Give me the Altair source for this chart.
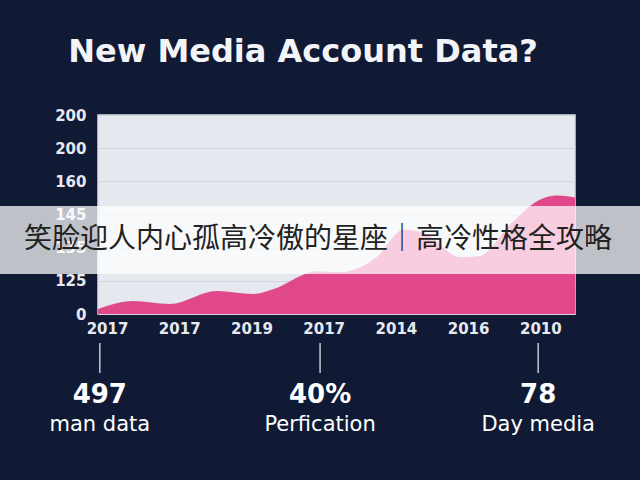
import json
import jinja2
import altair as alt
import pandas as pd

# ---- data ----
t_idx = [-0.125, 0.36, 0.87, 1.52, 2.02, 2.30, 2.91, 3.23, 3.73, 4.11, 4.40, 4.90, 5.15, 5.61, 6.00, 6.23, 6.48]
values = [0.15, 0.39, 0.30, 0.69, 0.60, 0.75, 1.29, 1.26, 1.71, 2.55, 2.43, 1.71, 1.74, 2.76, 3.45, 3.57, 3.51]

x_tick_labels = ["2017", "2017", "2019", "2017", "2014", "2016", "2010"]
y_tick_labels = ["0", "125", "135", "145", "160", "200", "200"]

stat_pos = [-0.1, 2.95, 5.97]
stat_numbers = ["497", "40%", "78"]
stat_labels = ["man data", "Perfication", "Day media"]

title_text = ["New Media Account Data?"]
banner_text = ["笑脸迎人内心孤高冷傲的星座｜高冷性格全攻略"]

BG = "#111a35"
PINK = "#e0488a"
LABEL = "#e6e9f0"

TEMPLATE = jinja2.Template("""<!DOCTYPE html>
<html>
<head>
<meta charset="utf-8">
<style>html,body{margin:0;padding:0;background:#111a35;overflow:hidden;} #{{ output_div }}{line-height:0;}</style>
<script type="text/javascript" src="{{ base_url }}/vega@{{ vega_version }}"></script>
<script type="text/javascript" src="{{ base_url }}/vega-lite@{{ vegalite_version }}"></script>
<script type="text/javascript" src="{{ base_url }}/vega-embed@{{ vegaembed_version }}"></script>
</head>
<body>
<div id="{{ output_div }}"></div>
<script type="text/javascript">
var spec = {{ spec }};
var embedOpt = {{ embed_options }};
vegaEmbed("#{{ output_div }}", spec, embedOpt).catch(function(err){
  document.getElementById("{{ output_div }}").innerHTML = '<pre>' + err + '</pre>';
});
</script>
</body>
</html>""")

df = pd.DataFrame({"t": t_idx, "v": values})
stats = pd.DataFrame({"pos": stat_pos, "num": stat_numbers, "lab": stat_labels})
one_title = pd.DataFrame({"txt": title_text})
one_banner = pd.DataFrame({"txt": banner_text})

x_scale = alt.Scale(domain=[-0.125, 6.48], nice=False, zero=False)
y_scale = alt.Scale(domain=[0, 6], nice=False)

x_axis = alt.Axis(
    values=list(range(len(x_tick_labels))),
    labelExpr=json.dumps(x_tick_labels) + "[datum.value]",
    grid=False, domain=False, ticks=False, labelPadding=7,
    labelColor=LABEL, labelFont="DejaVu Sans", labelFontSize=15,
    labelFontWeight="bold", title=None, labelOverlap=False,
)
y_axis = alt.Axis(
    values=list(range(len(y_tick_labels))),
    labelExpr=json.dumps(y_tick_labels) + "[datum.value]",
    grid=True, gridColor="#d2d6df", gridWidth=1, domain=False, ticks=False,
    labelPadding=12, labelColor=LABEL, labelFont="DejaVu Sans",
    labelFontSize=15, labelFontWeight="bold", title=None, labelOverlap=False,
)

area = alt.Chart(df).mark_area(color=PINK, interpolate="monotone", opacity=1).encode(
    x=alt.X("t:Q", scale=x_scale, axis=x_axis),
    y=alt.Y("v:Q", scale=y_scale, axis=y_axis),
)

banner = alt.Chart(one_banner).mark_rect(color="white", opacity=0.73).encode(
    x=alt.value(-98), x2=alt.value(542), y=alt.value(91), y2=alt.value(159)
)
banner_txt = alt.Chart(one_banner).mark_text(
    font="Noto Sans CJK SC", fontSize=28, color="#222222", align="center", baseline="middle"
).encode(x=alt.value(220), y=alt.value(125), text="txt:N")

title = alt.Chart(one_title).mark_text(
    font="DejaVu Sans", fontSize=32, fontWeight="bold", color="#f3f4f8",
    align="center", baseline="alphabetic"
).encode(x=alt.value(205), y=alt.value(-53), text="txt:N")

rules = alt.Chart(stats).mark_rule(color="#c3c8d4", strokeWidth=1.5).encode(
    x=alt.X("pos:Q", scale=x_scale), y=alt.value(228), y2=alt.value(258)
)
nums = alt.Chart(stats).mark_text(
    font="DejaVu Sans", fontSize=26, fontWeight="bold", color="white",
    align="center", baseline="middle"
).encode(x=alt.X("pos:Q", scale=x_scale), y=alt.value(280), text="num:N")
labs = alt.Chart(stats).mark_text(
    font="DejaVu Sans", fontSize=21, color="white", align="center", baseline="middle"
).encode(x=alt.X("pos:Q", scale=x_scale), y=alt.value(310), text="lab:N")

chart = alt.layer(area, banner, banner_txt, title, rules, nums, labs).properties(
    width=477, height=199,
    autosize=alt.AutoSizeParams(type="none"),
    padding={"left": 98, "top": 115, "right": 65, "bottom": 166},
    background=BG,
).configure_view(fill="#e5e8ee", stroke="#d9dde6", strokeWidth=1.5)

chart.save("out.html", embed_options={"renderer": "svg", "actions": False}, template=TEMPLATE)
